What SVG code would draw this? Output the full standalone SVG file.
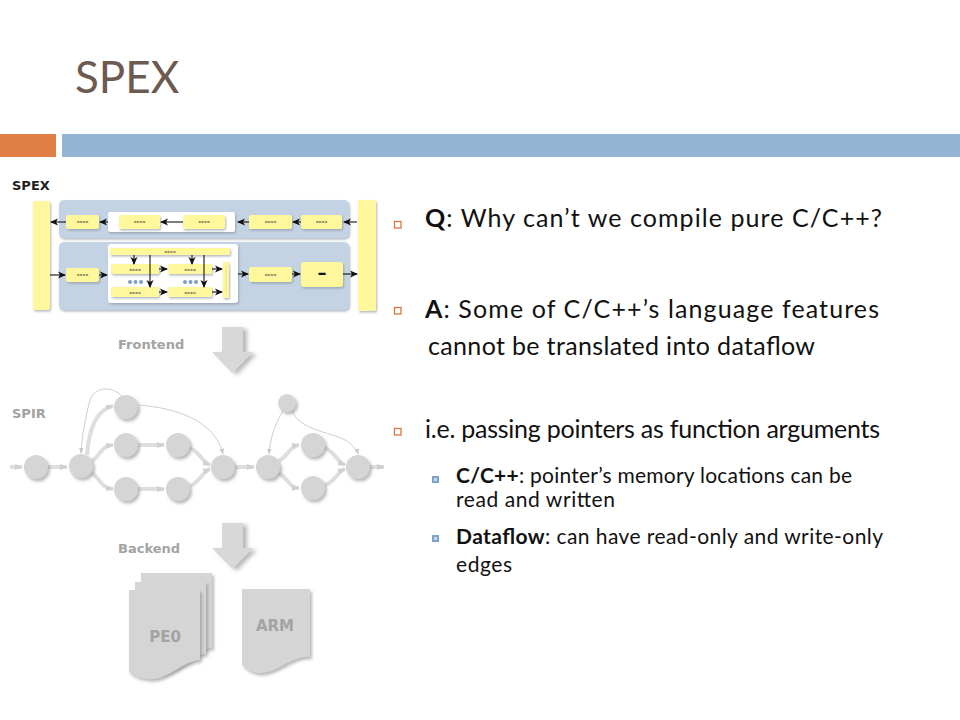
<svg xmlns="http://www.w3.org/2000/svg" width="960" height="720" viewBox="0 0 960 720">
<defs>
<style>
.lbl{font-family:"DejaVu Sans",sans-serif;font-weight:bold;fill:#a3a3a3}
.main{font-family:Lato,"Liberation Sans",sans-serif;font-size:25px;fill:#111}
.sub{font-family:Lato,"Liberation Sans",sans-serif;font-size:21px;fill:#111}
.b{font-weight:bold}
.panel{fill:#c4d3e3}
.yb{fill:#fff79c;filter:url(#sh1)}
.wb{fill:#fff;filter:url(#sh1)}
.dash{font-family:"DejaVu Sans",sans-serif;font-size:7px;font-weight:bold;fill:#333;text-anchor:middle}
.ka{stroke:#111;stroke-width:1.1;fill:none;marker-end:url(#ka)}
.node{fill:#d5d5d5;filter:url(#sh2)}
.e{stroke:#dedede;stroke-width:4;fill:none;marker-end:url(#ga)}
.t{stroke:#cfcfcf;stroke-width:1;fill:none;marker-end:url(#gt)}
.doc{fill:#d5d5d5;filter:url(#sh2)}
.bigarrow{fill:#d8d8d8;filter:url(#sh3)}
</style>
<filter id="sh1" x="-20%" y="-20%" width="150%" height="160%"><feDropShadow dx="1" dy="1.5" stdDeviation="0.8" flood-color="#7a8794" flood-opacity="0.6"/></filter>
<filter id="sh2" x="-30%" y="-30%" width="170%" height="170%"><feDropShadow dx="2" dy="2.5" stdDeviation="1.5" flood-color="#8a8a8a" flood-opacity="0.6"/></filter>
<filter id="sh3" x="-30%" y="-30%" width="170%" height="170%"><feDropShadow dx="4" dy="2" stdDeviation="2" flood-color="#888" flood-opacity="0.6"/></filter>
<marker id="ka" viewBox="0 0 8 8" refX="7" refY="4" markerWidth="8" markerHeight="8" markerUnits="userSpaceOnUse" orient="auto"><path d="M0,0.5 L8,4 L0,7.5 L2,4 Z" fill="#111"/></marker>
<marker id="ga" viewBox="0 0 8 8" refX="7" refY="4" markerWidth="8" markerHeight="8" markerUnits="userSpaceOnUse" orient="auto"><path d="M0,1 L8,4 L0,7 Z" fill="#d0d0d0"/></marker>
<marker id="gt" viewBox="0 0 8 8" refX="7" refY="4" markerWidth="6" markerHeight="6" markerUnits="userSpaceOnUse" orient="auto"><path d="M0,1 L8,4 L0,7 Z" fill="#c8c8c8"/></marker>
</defs>
<rect width="960" height="720" fill="#fff"/>

<!-- title -->
<g id="title">
<text x="75" y="93" font-family="Lato,'Liberation Sans',sans-serif" font-size="44" fill="#6d5a51">SPEX</text>
<rect x="0" y="134" width="56" height="23" fill="#e07f45"/>
<rect x="62" y="134" width="898" height="23" fill="#93b4d3"/>
</g>

<!-- SPEX block diagram -->
<g id="spex">
<text x="12" y="190" font-family="'DejaVu Sans',sans-serif" font-weight="bold" font-size="13" fill="#222">SPEX</text>
<rect x="33" y="201" width="17" height="109" rx="2" class="yb"/>
<rect x="358" y="200" width="18" height="111" rx="2" class="yb"/>
<rect x="59" y="200" width="290" height="38" rx="5" class="panel" filter="url(#sh1)"/>
<rect x="59" y="242" width="290" height="68" rx="5" class="panel" filter="url(#sh1)"/>
<rect x="108" y="212" width="127" height="20" rx="2" class="wb"/>
<g id="top-row">
<rect x="66" y="215" width="33" height="14" rx="2" class="yb"/><text x="82.5" y="224" class="dash">----</text>
<rect x="119" y="215" width="41" height="14" rx="2" class="yb"/><text x="139.5" y="224" class="dash">----</text>
<rect x="183" y="215" width="42" height="14" rx="2" class="yb"/><text x="204" y="224" class="dash">----</text>
<rect x="249" y="215" width="43" height="14" rx="2" class="yb"/><text x="270.5" y="224" class="dash">----</text>
<rect x="301" y="215" width="41" height="14" rx="2" class="yb"/><text x="321.5" y="224" class="dash">----</text>
</g>
<g id="bottom-row">
<rect x="66" y="268" width="33" height="14" rx="2" class="yb"/><text x="82.5" y="277" class="dash">----</text>
<rect x="108" y="244" width="130" height="59" rx="3" class="wb"/>
<rect x="110" y="248" width="120" height="7" rx="1" class="yb"/><text x="170" y="254" class="dash" font-size="8">----</text>
<rect x="111" y="264" width="48" height="10" rx="1.5" class="yb"/><text x="135" y="271.5" class="dash" font-size="6">----</text>
<rect x="168" y="264" width="44" height="10" rx="1.5" class="yb"/><text x="190" y="271.5" class="dash" font-size="6">----</text>
<rect x="111" y="287" width="48" height="10" rx="1.5" class="yb"/><text x="135" y="294.5" class="dash" font-size="6">----</text>
<rect x="168" y="287" width="44" height="10" rx="1.5" class="yb"/><text x="190" y="294.5" class="dash" font-size="6">----</text>
<rect x="223" y="262" width="6" height="36" rx="1" class="yb"/>
<line x1="226" y1="266" x2="226" y2="294" stroke="#c9c28a" stroke-width="1" stroke-dasharray="1 1.5"/>
<g fill="#7f9fc4"><circle cx="130" cy="282" r="2"/><circle cx="135.5" cy="282" r="2"/><circle cx="141" cy="282" r="2"/><circle cx="185" cy="282" r="2"/><circle cx="190.5" cy="282" r="2"/><circle cx="196" cy="282" r="2"/></g>
<rect x="249" y="267" width="43" height="15" rx="2" class="yb"/><text x="270.5" y="277" class="dash">----</text>
<rect x="301" y="262" width="42" height="25" rx="3" class="yb"/><text x="322" y="279" font-family="'DejaVu Sans',sans-serif" font-size="18" font-weight="bold" fill="#111" text-anchor="middle">–</text>
</g>
</g>

<g id="spex-connectors">
<line x1="357" y1="222" x2="344" y2="222" class="ka"/>
<line x1="301" y1="222" x2="293" y2="222" class="ka"/>
<line x1="249" y1="222" x2="238" y2="222" class="ka"/>
<line x1="183" y1="222" x2="161" y2="222" class="ka"/>
<line x1="108" y1="222" x2="100" y2="222" class="ka"/>
<line x1="66" y1="222" x2="51" y2="222" class="ka"/>
<line x1="50" y1="275" x2="65" y2="275" class="ka"/>
<line x1="99" y1="275" x2="107" y2="275" class="ka"/>
<line x1="134" y1="255" x2="134" y2="264" class="ka"/>
<line x1="192" y1="255" x2="192" y2="264" class="ka"/>
<line x1="150" y1="255" x2="150" y2="287" class="ka"/>
<line x1="204" y1="255" x2="204" y2="287" class="ka"/>
<line x1="159" y1="269" x2="167" y2="269" class="ka"/>
<line x1="159" y1="292" x2="167" y2="292" class="ka"/>
<line x1="212" y1="269" x2="222" y2="269" class="ka"/>
<line x1="212" y1="292" x2="222" y2="292" class="ka"/>
<line x1="238" y1="274" x2="248" y2="274" class="ka"/>
<line x1="292" y1="274" x2="300" y2="274" class="ka"/>
<line x1="343" y1="274" x2="357" y2="274" class="ka"/>
</g>

<!-- frontend arrow -->
<g id="frontend">
<text x="118" y="349" class="lbl" font-size="13">Frontend</text>
<polygon class="bigarrow" points="222,327 243,327 243,352 253,352 232.5,373 212,352 222,352"/>
</g>

<!-- SPIR graph -->
<g id="spir">
<text x="12" y="418" class="lbl" font-size="13">SPIR</text>
</g>
<g id="spir-connectors">
<path class="e" d="M10,467 H22"/>
<path class="e" d="M48,467 H67"/>
<path class="e" d="M87,455 C89,428 96,410 113,406"/>
<path class="e" d="M92,461 C101,455 101,446 113,445"/>
<path class="e" d="M92,473 C101,480 101,488 113,489"/>
<path class="e" d="M138,445 H164"/>
<path class="e" d="M138,489 H164"/>
<path class="e" d="M190,448 C200,452 202,462 210,465"/>
<path class="e" d="M190,486 C200,482 202,472 210,469"/>
<path class="e" d="M235,467 H254"/>
<path class="e" d="M279,461 C289,455 290,446 299,445"/>
<path class="e" d="M279,473 C289,480 290,488 299,488"/>
<path class="e" d="M325,448 C335,452 337,462 345,465"/>
<path class="e" d="M325,485 C335,482 337,472 345,469"/>
<path class="e" d="M370,467 H384"/>
<path class="t" d="M122,396 C112,386 95,386 90,400 C86,415 82,435 81,453"/>
<path class="t" d="M139,405 C175,408 215,420 223,454"/>
<path class="t" d="M283,411 C276,422 270,438 269,454"/>
<path class="t" d="M292,411 C300,430 330,432 345,440 C352,444 357,450 358,454"/>
</g>
<g id="spir-nodes">
<circle id="n1" cx="36" cy="467" r="12" class="node"/>
<circle id="n2" cx="81" cy="466" r="12" class="node"/>
<circle id="n3" cx="126" cy="407" r="12" class="node"/>
<circle id="n4" cx="126" cy="445" r="12" class="node"/>
<circle id="n5" cx="178" cy="445" r="12" class="node"/>
<circle id="n6" cx="126" cy="489" r="12" class="node"/>
<circle id="n7" cx="178" cy="489" r="12" class="node"/>
<circle id="n8" cx="223" cy="467" r="12" class="node"/>
<circle id="n9" cx="268" cy="467" r="12" class="node"/>
<circle id="n10" cx="287" cy="403" r="9" class="node"/>
<circle id="n11" cx="313" cy="445" r="12" class="node"/>
<circle id="n12" cx="313" cy="488" r="12" class="node"/>
<circle id="n13" cx="358" cy="467" r="12" class="node"/>
</g>

<!-- backend -->
<g id="backend">
<text x="118" y="553" class="lbl" font-size="13">Backend</text>
<polygon class="bigarrow" points="222,523 243,523 243,548 253,548 232.5,569 212,548 222,548"/>
</g>
<g id="pe0">
<path class="doc" d="M141,573 H212 V648 C197,648 177,670 160,667 C150,666 145,662 141,659 Z"/>
<path class="doc" d="M135,582 H206 V654 C191,654 171,677 154,674 C144,673 139,669 135,666 Z"/>
<path class="doc" d="M129,590 H200 V660 C185,660 165,682 148,679 C138,678 133,675 129,672 Z"/>
<text x="165" y="642" class="lbl" font-size="15" fill="#a8a8a8" text-anchor="middle">PE0</text>
</g>
<g id="arm">
<path class="doc" d="M242,589 H310 V657 C292,655 275,675 258,673 C250,672 246,668 242,665 Z"/>
<text x="275" y="631" class="lbl" font-size="15" text-anchor="middle">ARM</text>
</g>

<!-- bullets -->
<g id="text">
<rect x="394.5" y="221.5" width="6.5" height="6.5" fill="#fff" stroke="#d9773a" stroke-width="1.3"/>
<text x="425" y="227" class="main" textLength="457" lengthAdjust="spacing"><tspan class="b">Q</tspan>: Why can’t we compile pure C/C++?</text>
<rect x="394.5" y="307.5" width="6.5" height="6.5" fill="#fff" stroke="#d9773a" stroke-width="1.3"/>
<text x="425" y="318" class="main" textLength="454" lengthAdjust="spacing"><tspan class="b">A</tspan>: Some of C/C++’s language features</text>
<text x="428" y="355" class="main" textLength="387" lengthAdjust="spacing">cannot be translated into dataflow</text>
<rect x="394.5" y="428.5" width="6.5" height="6.5" fill="#fff" stroke="#d9773a" stroke-width="1.3"/>
<text x="425" y="438" class="main" textLength="455" lengthAdjust="spacing">i.e. passing pointers as function arguments</text>
<rect x="432" y="476" width="7" height="7" fill="#7fa3c9"/><rect x="434" y="478" width="3" height="3" fill="#c9d8e8"/>
<text x="456" y="483" class="sub" textLength="396" lengthAdjust="spacing"><tspan class="b">C/C++</tspan>: pointer’s memory locations can be</text>
<text x="456" y="507" class="sub" textLength="159" lengthAdjust="spacing">read and written</text>
<rect x="432" y="535" width="7" height="7" fill="#7fa3c9"/><rect x="434" y="537" width="3" height="3" fill="#c9d8e8"/>
<text x="456" y="544" class="sub" textLength="427" lengthAdjust="spacing"><tspan class="b">Dataflow</tspan>: can have read-only and write-only</text>
<text x="456" y="572" class="sub" textLength="56" lengthAdjust="spacing">edges</text>
</g>
</svg>
